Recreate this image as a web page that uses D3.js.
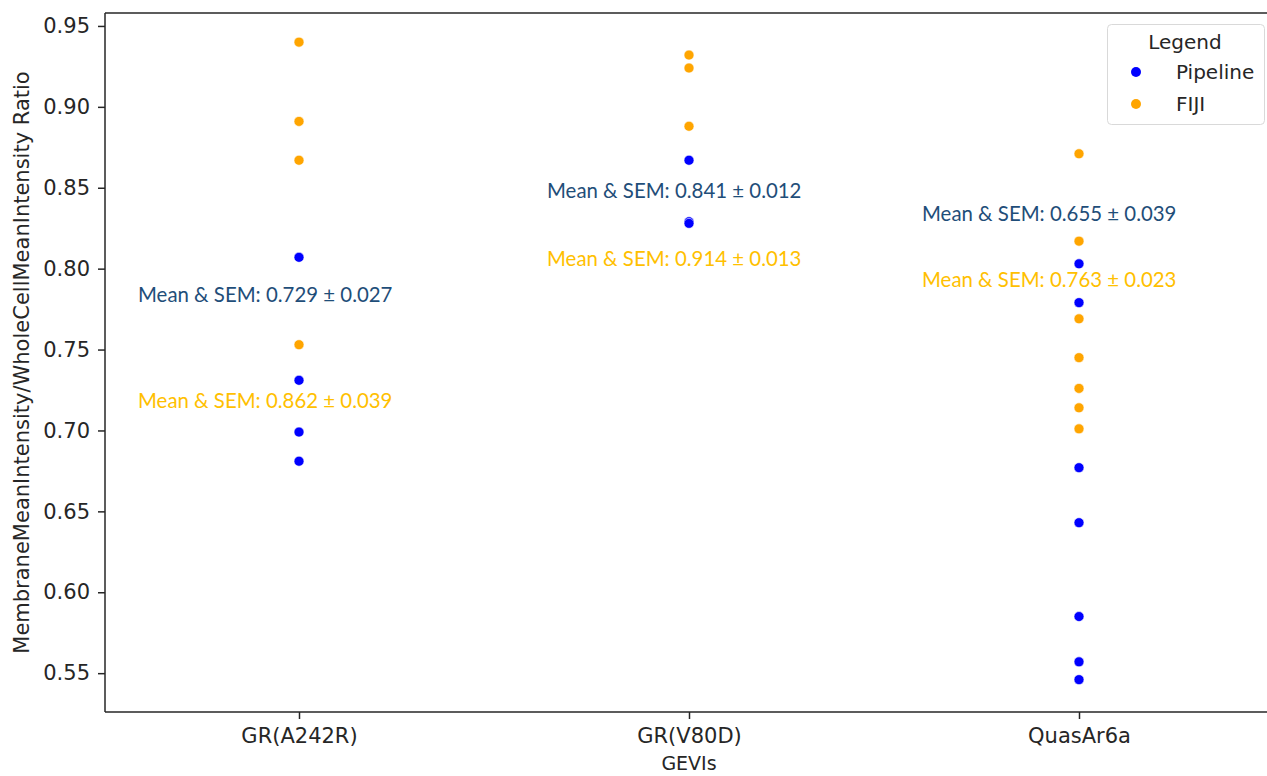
<!DOCTYPE html>
<html>
<head>
<meta charset="utf-8">
<script src="https://cdn.jsdelivr.net/npm/d3@7"></script>
<style>
  body { margin: 0; background: #fff; }
  .tick text { font-family: "DejaVu Sans", sans-serif; font-size: 21px; fill: #262626; }
  .tick line { stroke: #262626; }
  .domain { stroke: #262626; }
</style>
</head>
<body>
<script>
// chart data
var categories = ['GR(A242R)', 'GR(V80D)', 'QuasAr6a'];
var yTicks = [0.55, 0.60, 0.65, 0.70, 0.75, 0.80, 0.85, 0.90, 0.95];

var pipelineValues = [
	[0.807, 0.731, 0.699, 0.681],
	[0.867, 0.829, 0.828],
	[0.803, 0.779, 0.677, 0.643, 0.585, 0.557, 0.546]
];
var fijiValues = [
	[0.940, 0.891, 0.867, 0.753],
	[0.932, 0.924, 0.888],
	[0.871, 0.817, 0.769, 0.745, 0.726, 0.714, 0.701]
];

var pipelineNotes = ['Mean & SEM: 0.729 ± 0.027', 'Mean & SEM: 0.841 ± 0.012', 'Mean & SEM: 0.655 ± 0.039'];
var fijiNotes = ['Mean & SEM: 0.862 ± 0.039', 'Mean & SEM: 0.914 ± 0.013', 'Mean & SEM: 0.763 ± 0.023'];
// y value where each note is centred
var pipelineNoteY = [0.784, 0.848, 0.834];
var fijiNoteY = [0.718, 0.806, 0.793];

var seriesNames = ['Pipeline', 'FIJI'];
var seriesColors = ['#0000ff', '#ffa500'];
var noteColors = ['#1f4e79', '#ffc000'];

var width = 1267, height = 776;
var margin = { left: 105, top: 13, bottom: 64 };
// notes were placed by hand, left edge relative to each category
var noteDx = [-161, -142, -157];

var svg = d3.select('body').append('svg')
	.attr('width', width)
	.attr('height', height);

var x = d3.scalePoint()
	.domain(categories)
	.range([299, 1079]);

var y = d3.scaleLinear()
	.domain([0.526, 0.958])
	.range([height - margin.bottom, margin.top]);

// axes
svg.append('g')
	.attr('transform', 'translate(' + margin.left + ',0)')
	.call(d3.axisLeft(y).tickValues(yTicks).tickFormat(d3.format('.2f')).tickSize(7).tickPadding(8))
	.call(function(g){ g.select('.domain').attr('d', 'M0,' + (height - margin.bottom) + 'V' + margin.top); });

svg.append('g')
	.attr('transform', 'translate(0,' + (height - margin.bottom) + ')')
	.call(d3.axisBottom(x).tickSize(7).tickPadding(9))
	.call(function(g){ g.select('.domain').attr('d', 'M' + margin.left + ',0H' + width); });

// top spine
svg.append('line')
	.attr('x1', margin.left).attr('x2', width)
	.attr('y1', margin.top).attr('y2', margin.top)
	.attr('stroke', '#262626');

svg.selectAll('.domain, .tick line').attr('stroke-width', 1.5);
svg.selectAll('line').attr('stroke-width', 1.5);

// axis titles
svg.append('text')
	.attr('x', x('GR(V80D)'))
	.attr('y', 770)
	.attr('text-anchor', 'middle')
	.style('font-family', 'DejaVu Sans, sans-serif')
	.style('font-size', '19px')
	.style('fill', '#262626')
	.text('GEVIs');

svg.append('text')
	.attr('transform', 'translate(29,' + ((height - margin.bottom + margin.top) / 2) + ') rotate(-90)')
	.attr('text-anchor', 'middle')
	.style('font-family', 'DejaVu Sans, sans-serif')
	.style('font-size', '21px')
	.style('fill', '#262626')
	.text('MembraneMeanIntensity/WholeCellMeanIntensity Ratio');

// points
function drawSeries(values, color){
	var pts = [];
	values.forEach(function(vals, i){
		vals.forEach(function(v){ pts.push({ cat: categories[i], v: v }); });
	});
	svg.append('g').selectAll('circle')
		.data(pts)
		.enter().append('circle')
		.attr('cx', function(d){ return x(d.cat); })
		.attr('cy', function(d){ return y(d.v); })
		.attr('r', 5)
		.attr('fill', color)
		.attr('stroke', '#fff')
		.attr('stroke-width', 0.6);
}
drawSeries(fijiValues, seriesColors[1]);
drawSeries(pipelineValues, seriesColors[0]);

// mean & SEM notes
function drawNotes(notes, ys, color){
	svg.append('g').selectAll('text')
		.data(notes)
		.enter().append('text')
		.attr('x', function(d, i){ return x(categories[i]) + noteDx[i]; })
		.attr('y', function(d, i){ return y(ys[i]); })
		.attr('dy', '0.35em')
		.style('font-family', 'Lato, sans-serif')
		.style('font-size', '20.4px')
		.style('fill', color)
		.text(function(d){ return d; });
}
drawNotes(pipelineNotes, pipelineNoteY, noteColors[0]);
drawNotes(fijiNotes, fijiNoteY, noteColors[1]);

// legend
var legend = svg.append('g');
legend.append('rect')
	.attr('x', 1107.5).attr('y', 24.5)
	.attr('width', 157).attr('height', 100)
	.attr('rx', 4)
	.attr('fill', '#fff')
	.attr('stroke', '#d9d9d9');
legend.append('text')
	.attr('x', 1185).attr('y', 42).attr('dy', '0.35em')
	.attr('text-anchor', 'middle')
	.style('font-family', 'DejaVu Sans, sans-serif')
	.style('font-size', '20px')
	.style('fill', '#262626')
	.text('Legend');
seriesNames.forEach(function(name, i){
	var ly = 72 + i * 32;
	legend.append('circle')
		.attr('cx', 1136).attr('cy', ly).attr('r', 5)
		.attr('fill', seriesColors[i]);
	legend.append('text')
		.attr('x', 1176).attr('y', ly).attr('dy', '0.35em')
		.style('font-family', 'DejaVu Sans, sans-serif')
		.style('font-size', '20px')
		.style('fill', '#262626')
		.text(name);
});
</script>
</body>
</html>
